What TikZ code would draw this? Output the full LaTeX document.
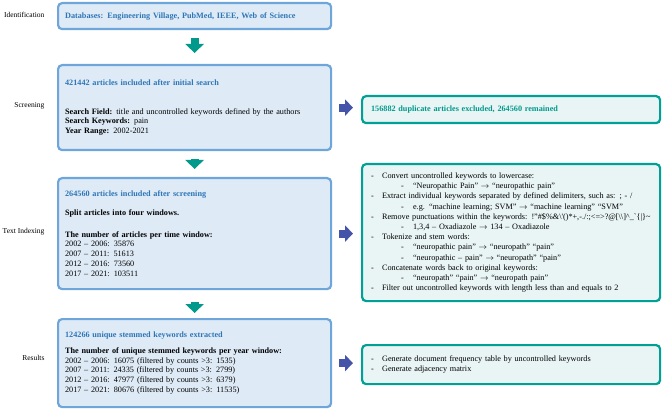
\documentclass[tikz,border=0pt]{standalone}
\usepackage{fontspec}
\setmainfont{Liberation Serif}
\usetikzlibrary{arrows.meta,positioning,calc}
\definecolor{BoxBlue}{RGB}{222,235,247}
\definecolor{EdgeBlue}{RGB}{110,165,218}
\definecolor{HeadBlue}{RGB}{46,117,182}
\definecolor{TealEdge}{RGB}{0,160,150}
\definecolor{TealFill}{RGB}{233,244,244}
\definecolor{ArrowTeal}{RGB}{0,153,140}
\definecolor{ArrowBlue}{RGB}{68,84,168}
\newcommand{\headline}[1]{{\color{HeadBlue}\bfseries #1}}
\newcommand{\listpoint}[1]{\makebox[11pt][l]{-}#1}
\newcommand{\subpoint}[1]{\hspace*{30pt}\makebox[12pt][l]{-}#1}
\newcommand{\rarr}{$\rightarrow$}

\begin{document}
\begin{tikzpicture}[x=1pt,y=-1pt,
    every node/.style={font=\fontsize{8.2}{9.8}\selectfont},
    leftbox/.style={draw=EdgeBlue, line width=2.2pt, fill=BoxBlue, rounded corners=4pt,
      anchor=north west, align=left, text width=259pt, inner xsep=7pt, inner ysep=0pt},
    rightbox/.style={draw=TealEdge, line width=2.2pt, fill=TealFill, rounded corners=4pt,
      anchor=north west, align=left, text width=280pt, inner xsep=9pt, inner ysep=0pt},
    stagelabel/.style={anchor=east, font=\fontsize{7.5}{9}\selectfont},
    downarrow/.style={ArrowTeal, line width=8pt, -{Triangle[length=9pt,width=18pt]},
      shorten <=8pt, shorten >=8pt},
    sidearrow/.style={ArrowBlue, line width=8pt, -{Triangle[length=8pt,width=16pt]},
      shorten <=7pt, shorten >=8pt}]
  \useasboundingbox (0,0) rectangle (662,409);

  % stages
  \node[stagelabel] (lident) at (48,15) {Identification};
  \node[stagelabel] (lscreen) at (48,106) {Screening};
  \node[stagelabel] (lindex) at (48,232) {Text Indexing};
  \node[stagelabel] (lresult) at (48,358) {Results};

  % left column
  \node[leftbox, minimum height=26pt] (ident) at (57,2)
    {\headline{Databases: Engineering Village, PubMed, IEEE, Web of Science}};
  \node[leftbox, minimum height=85pt] (screen) at (57,64)
    {\headline{421442 articles included after initial search}\\[19pt]
     \textbf{Search Field:} title and uncontrolled keywords defined by the authors\\
     \textbf{Search Keywords:} pain\\
     \textbf{Year Range:} 2002-2021};
  \node[leftbox, minimum height=111pt] (index) at (57,177)
    {\headline{264560 articles included after screening}\\[9pt]
     \textbf{Split articles into four windows.}\\[12pt]
     \textbf{The number of articles per time window:}\\
     2002 -- 2006: 35876\\
     2007 -- 2011: 51613\\
     2012 -- 2016: 73560\\
     2017 -- 2021: 103511};
  \node[leftbox, minimum height=88pt] (result) at (57,318)
    {\headline{124266 unique stemmed keywords extracted}\\[6pt]
     \textbf{The number of unique stemmed keywords per year window:}\\
     2002 -- 2006: 16075 (filtered by counts >3: 1535)\\
     2007 -- 2011: 24335 (filtered by counts >3: 2799)\\
     2012 -- 2016: 47977 (filtered by counts >3: 6379)\\
     2017 -- 2021: 80676 (filtered by counts >3: 11535)};

  % right column
  \node[rightbox, minimum height=27pt] (dup) at (361,95)
    {{\color{ArrowTeal}\bfseries 156882 duplicate articles excluded, 264560 remained}};
  \node[rightbox, minimum height=137pt, font=\fontsize{8.2}{10.2}\selectfont] (proc) at (361,163)
    {\listpoint{Convert uncontrolled keywords to lowercase:}\\
     \subpoint{“Neuropathic Pain” \rarr{} “neuropathic pain”}\\
     \listpoint{Extract individual keywords separated by defined delimiters, such as: ; - /}\\
     \subpoint{e.g. “machine learning; SVM” \rarr{} “machine learning” “SVM”}\\
     \listpoint{Remove punctuations within the keywords: !"\#\$\%\&\textbackslash\textquotesingle()*+,-./:;<=>?@[\textbackslash\textbackslash]\^{}\_\textasciigrave\{|\}\textasciitilde}\\
     \subpoint{1,3,4 -- Oxadiazole \rarr{} 134 -- Oxadiazole}\\
     \listpoint{Tokenize and stem words:}\\
     \subpoint{“neuropathic pain” \rarr{} “neuropath” “pain”}\\
     \subpoint{“neuropathic -- pain” \rarr{} “neuropath” “pain”}\\
     \listpoint{Concatenate words back to original keywords:}\\
     \subpoint{“neuropath” “pain” \rarr{} “neuropath pain”}\\
     \listpoint{Filter out uncontrolled keywords with length less than and equals to 2}};
  \node[rightbox, minimum height=39pt] (gen) at (361,344)
    {\listpoint{Generate document frequency table by uncontrolled keywords}\\
     \listpoint{Generate adjacency matrix}};

  % arrows
  \draw[downarrow, shorten >=11pt] (ident) -- (screen);
  \draw[downarrow] (screen) -- (index);
  \draw[downarrow, shorten <=12pt, shorten >=5pt] (index) -- (result);
  \draw[sidearrow] (screen.east) -- (screen.east -| dup.west);
  \draw[sidearrow] (index.east) -- (index.east -| proc.west);
  \draw[sidearrow] (result.east) -- (result.east -| gen.west);
\end{tikzpicture}
\end{document}
